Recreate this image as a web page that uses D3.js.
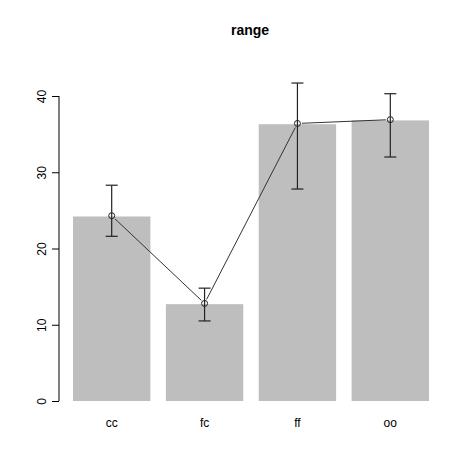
<!DOCTYPE html>
<html>
<head>
<meta charset="utf-8">
<script src="https://cdn.jsdelivr.net/npm/d3@7"></script>
<style>
  body { margin: 0; background: #fff; }
  text { font-family: "Liberation Sans", Arial, sans-serif; }
</style>
</head>
<body>
<div id="chart"></div>
<script>
var categories = ['cc', 'fc', 'ff', 'oo'];
var barValues = [24.2, 12.7, 36.3, 36.8];
var meanValues = [24.3, 12.8, 36.4, 36.9];
var upperValues = [28.3, 14.8, 41.7, 40.3];
var lowerValues = [21.6, 10.5, 27.8, 32.0];
var yTicks = [0, 10, 20, 30, 40];

var width = 474, height = 474;
var svg = d3.select('#chart').append('svg')
    .attr('width', width)
    .attr('height', height);

// bar positions like R barplot (width 1, space 0.2)
var x = d3.scaleLinear().domain([0.2, 4.8]).range([73, 429]);
var y = d3.scaleLinear().domain([0, 40]).range([401, 96]);

var data = categories.map(function(c, i) {
  return {cat: c, bar: barValues[i], mean: meanValues[i], hi: upperValues[i], lo: lowerValues[i],
          x0: 0.2 + i * 1.2, mid: 0.7 + i * 1.2};
});

// Bars
svg.selectAll('.bar')
  .data(data)
  .enter().append('rect')
  .attr('class', 'bar')
  .attr('x', d => x(d.x0))
  .attr('width', d => x(d.x0 + 1) - x(d.x0))
  .attr('y', d => y(d.bar))
  .attr('height', d => y(0) - y(d.bar))
  .attr('fill', '#bebebe');

// y axis
var yAxis = d3.axisLeft(y).tickValues(yTicks).tickSize(7).tickPadding(0).tickFormat(d3.format('d'));
var ya = svg.append('g')
  .attr('transform', 'translate(59,0)')
  .call(yAxis);
ya.select('.domain').attr('d', 'M0,' + y(0) + 'V' + y(40)).attr('stroke', '#000');
ya.selectAll('.tick line').attr('stroke', '#000');
ya.selectAll('.tick text')
  .attr('x', 0).attr('dy', 0)
  .attr('transform', 'translate(-17,0) rotate(-90)')
  .attr('text-anchor', 'middle')
  .attr('dominant-baseline', 'central')
  .attr('font-size', 12)
  .attr('fill', '#000');

// category labels
svg.selectAll('.cat')
  .data(data)
  .enter().append('text')
  .attr('class', 'cat')
  .attr('x', d => x(d.mid))
  .attr('y', 427)
  .attr('text-anchor', 'middle')
  .attr('font-size', 12)
  .text(d => d.cat);

// title
svg.append('text')
  .attr('x', 250)
  .attr('y', 35)
  .attr('text-anchor', 'middle')
  .attr('font-size', 14)
  .attr('font-weight', 'bold')
  .text('range');

// error bars
var eb = svg.selectAll('.err')
  .data(data)
  .enter().append('g')
  .attr('class', 'err')
  .attr('stroke', '#222')
  .attr('stroke-width', 1.2);
eb.append('line')
  .attr('x1', d => x(d.mid)).attr('x2', d => x(d.mid))
  .attr('y1', d => y(d.lo)).attr('y2', d => y(d.hi));
eb.append('line')
  .attr('x1', d => x(d.mid) - 6).attr('x2', d => x(d.mid) + 6)
  .attr('y1', d => y(d.hi)).attr('y2', d => y(d.hi));
eb.append('line')
  .attr('x1', d => x(d.mid) - 6).attr('x2', d => x(d.mid) + 6)
  .attr('y1', d => y(d.lo)).attr('y2', d => y(d.lo));

// connecting line with gaps round the points (type = "b")
var r = 3, gap = 4.5;
for (var i = 0; i < data.length - 1; i++) {
  var ax = x(data[i].mid), ay = y(data[i].mean);
  var bx = x(data[i + 1].mid), by = y(data[i + 1].mean);
  var len = Math.hypot(bx - ax, by - ay);
  var ux = (bx - ax) / len, uy = (by - ay) / len;
  svg.append('line')
    .attr('x1', ax + ux * gap).attr('y1', ay + uy * gap)
    .attr('x2', bx - ux * gap).attr('y2', by - uy * gap)
    .attr('stroke', '#333')
    .attr('stroke-width', 1);
}

// points
svg.selectAll('.pt')
  .data(data)
  .enter().append('circle')
  .attr('class', 'pt')
  .attr('cx', d => x(d.mid))
  .attr('cy', d => y(d.mean))
  .attr('r', r)
  .attr('fill', 'none')
  .attr('stroke', '#222')
  .attr('stroke-width', 1);
</script>
</body>
</html>
